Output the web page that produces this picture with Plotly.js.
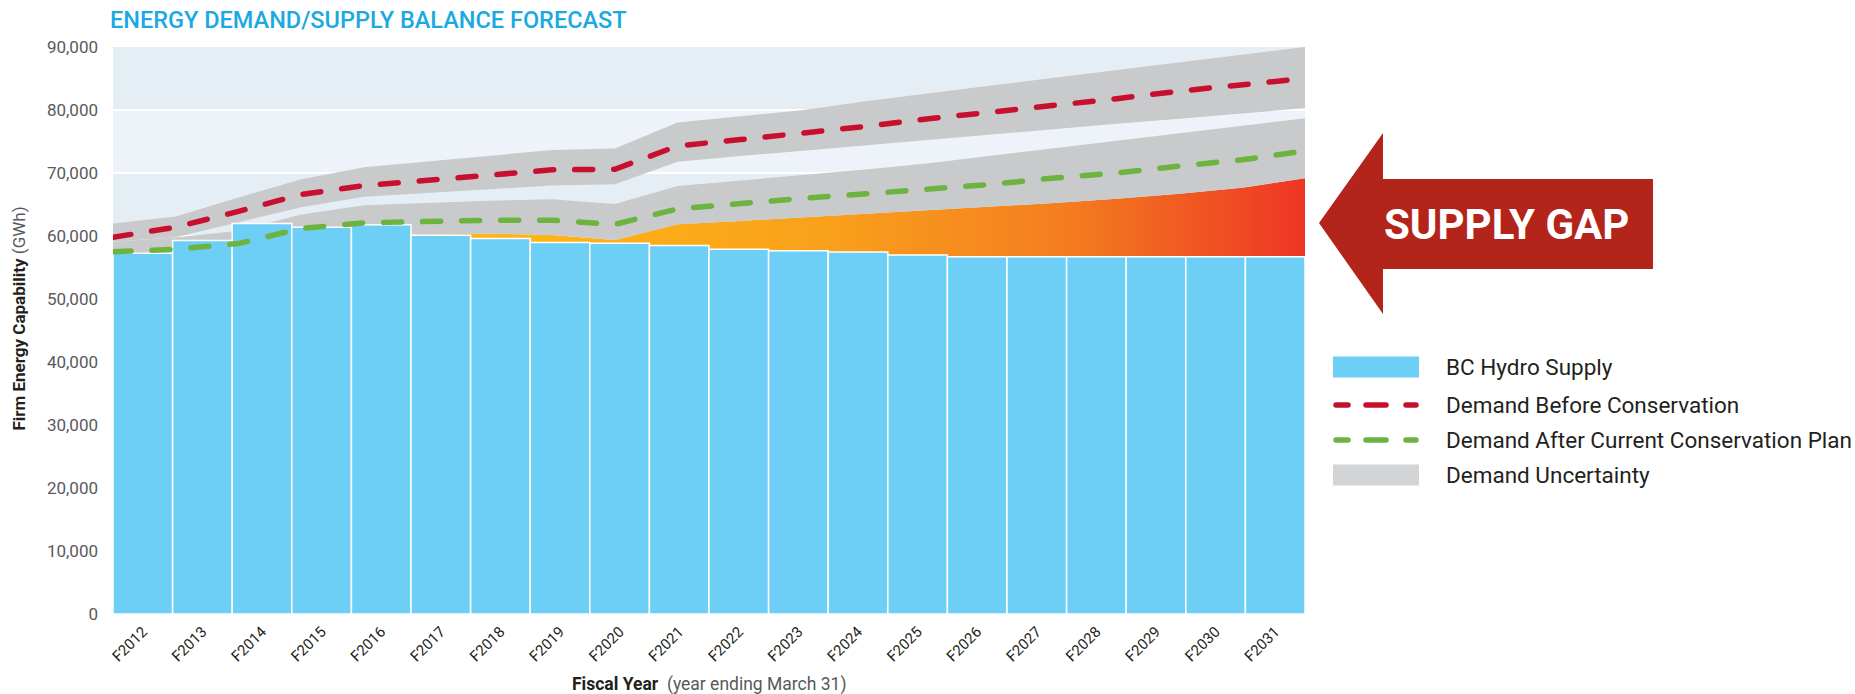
<!DOCTYPE html>
<html><head><meta charset="utf-8">
<script src="https://cdn.plot.ly/plotly-3.0.1.min.js"></script>
<style>
html,body{margin:0;padding:0;background:#fff;}
#chart{width:1855px;height:694px;}
.scatterlayer .js-line{stroke-linecap:round;}
.shapelayer path{stroke-linecap:round;}
</style></head><body><div id="chart"></div>
<script>
// ---- data (GWh) ----
const categories = ['F2012','F2013','F2014','F2015','F2016','F2017','F2018','F2019','F2020','F2021',
                    'F2022','F2023','F2024','F2025','F2026','F2027','F2028','F2029','F2030','F2031'];
const bcHydroSupply = [57250, 59300, 62000, 61400, 61800, 60100, 59600, 58950, 58850, 58500,
                       57900, 57650, 57450, 57000, 56700, 56700, 56700, 56700, 56700, 56700];
const demandBeforeConservation = [59800, 61400, 63900, 66600, 68000, 68800, 69800, 70500, 70600, 74300,
                                  75300, 76300, 77400, 78600, 79600, 80800, 81800, 83000, 83900, 85000];
const demandAfterConservation = [57500, 57900, 58800, 61200, 62100, 62400, 62500, 62500, 61850, 64300,
                                 65200, 66000, 66700, 67450, 68200, 69200, 70000, 71100, 72100, 73500];
const uncertaintyBeforeHigh = [62000, 63100, 66100, 69000, 70900, 71800, 72700, 73650, 73900, 78000,
                               79000, 80000, 81400, 82700, 83900, 85100, 86300, 87500, 88700, 90000];
const uncertaintyBeforeLow  = [59100, 59800, 62200, 64550, 66250, 66800, 67400, 68000, 68200, 71800,
                               72700, 73550, 74400, 75350, 76150, 77000, 77800, 78600, 79450, 80300];
const uncertaintyAfterHigh  = [59100, 59750, 60830, 63400, 64900, 65250, 65600, 65820, 65080, 67940,
                               68810, 69680, 70560, 71540, 72730, 73920, 75100, 76300, 77490, 78680];
const uncertaintyAfterLow   = [55100, 55600, 56500, 58900, 59800, 60250, 60370, 60160, 59370, 61850,
                               62400, 62960, 63510, 64020, 64600, 65240, 65930, 66720, 67670, 69150];
const yTickValues = [0, 10000, 20000, 30000, 40000, 50000, 60000, 70000, 80000, 90000];
const legendLabels = ['BC Hydro Supply', 'Demand Before Conservation',
                      'Demand After Current Conservation Plan', 'Demand Uncertainty'];
const chartTitle = 'ENERGY DEMAND/SUPPLY BALANCE FORECAST';
const gapLabel = 'SUPPLY GAP';

// ---- styles ----
const C = {
  bar: '#6DCFF6', red: '#C8102E', green: '#6DB33F', band: '#C9CACC', legendBand: '#D3D4D6',
  bg: '#E6EEF5', stripe: '#EDF3F8', arrow: '#B3241B', title: '#1BA9E1', text: '#231F20', grey: '#58595B'
};
const FONT = 'Roboto, "Open Sans", sans-serif';
const W = 1855, H = 694, ML = 113, MR = 550, MT = 47, MB = 80;
const PW = W - ML - MR, PH = H - MT - MB;
const px = X => (X - ML) / PW;          // pixel -> paper x
const py = Y => (H - MB - Y) / PH;      // pixel -> paper y

const years = categories.map(c => parseInt(c.slice(1), 10));
const yMax = yTickValues[yTickValues.length - 1];

const traces = [
  // base subplot: orange gap + uncertainty bands
  { x: years, y: uncertaintyAfterLow, type: 'scatter', mode: 'lines', xaxis: 'x', yaxis: 'y',
    line: { width: 0 }, fill: 'tozeroy', fillcolor: '#F7941D',
    fillgradient: { type: 'horizontal',
      colorscale: [[0, '#FDB913'], [0.35, '#FDB515'], [0.6, '#F9A01B'], [0.8, '#F47D20'], [1, '#EE3524']] },
    hoverinfo: 'skip', showlegend: false },
  { x: years, y: uncertaintyAfterHigh, type: 'scatter', mode: 'lines', xaxis: 'x', yaxis: 'y',
    line: { width: 0 }, fill: 'tonexty', fillcolor: C.band, hoverinfo: 'skip', showlegend: false },
  { x: years, y: uncertaintyBeforeLow, type: 'scatter', mode: 'lines', xaxis: 'x', yaxis: 'y',
    line: { width: 0 }, hoverinfo: 'skip', showlegend: false },
  { x: years, y: uncertaintyBeforeHigh, type: 'scatter', mode: 'lines', xaxis: 'x', yaxis: 'y',
    line: { width: 0 }, fill: 'tonexty', fillcolor: C.band, hoverinfo: 'skip', showlegend: false },
  // overlay: supply bars
  { x: categories, y: bcHydroSupply, type: 'bar', xaxis: 'x2', yaxis: 'y2', name: legendLabels[0],
    marker: { color: C.bar, line: { color: '#ffffff', width: 1.5 } }, showlegend: false },
  // overlay: demand lines
  { x: years, y: demandBeforeConservation, type: 'scatter', mode: 'lines', xaxis: 'x3', yaxis: 'y3',
    name: legendLabels[1], line: { color: C.red, width: 5.5, dash: '18px,21px' }, showlegend: false },
  { x: years, y: demandAfterConservation, type: 'scatter', mode: 'lines', xaxis: 'x3', yaxis: 'y3',
    name: legendLabels[2], line: { color: C.green, width: 5.5, dash: '18px,21px' }, showlegend: false }
];

const shapes = [];
// alternating light background stripes (80k-70k, 60k-50k, ...)
for (let i = yTickValues.length - 2; i > 0; i -= 2) {
  shapes.push({ type: 'rect', xref: 'paper', yref: 'y', x0: 0, x1: 1,
    y0: yTickValues[i - 1], y1: yTickValues[i], fillcolor: C.stripe, line: { width: 0 }, layer: 'below' });
}
// supply gap arrow
const arrowPts = [[1319, 223], [1383, 133], [1383, 179], [1653, 179], [1653, 269], [1383, 269], [1383, 314]];
shapes.push({ type: 'path', xref: 'paper', yref: 'paper',
  path: 'M ' + arrowPts.map(p => px(p[0]) + ',' + py(p[1])).join(' L ') + ' Z',
  fillcolor: C.arrow, line: { width: 0 }, layer: 'above' });
// legend samples
const legRows = [367, 405, 440, 475];
const lx0 = 1333, lx1 = 1419;
shapes.push({ type: 'rect', xref: 'paper', yref: 'paper', x0: px(lx0), x1: px(lx1),
  y0: py(legRows[0] - 10.5), y1: py(legRows[0] + 10.5), fillcolor: C.bar, line: { width: 0 } });
shapes.push({ type: 'rect', xref: 'paper', yref: 'paper', x0: px(lx0), x1: px(lx1),
  y0: py(legRows[3] - 10.5), y1: py(legRows[3] + 10.5), fillcolor: C.legendBand, line: { width: 0 } });
[[legRows[1], C.red], [legRows[2], C.green]].forEach(([ry, col]) => {
  [[1336, 1348], [1366, 1386], [1406, 1416]].forEach(([a, b]) => {
    shapes.push({ type: 'line', xref: 'paper', yref: 'paper', x0: px(a), x1: px(b), y0: py(ry), y1: py(ry),
      line: { color: col, width: 5.5 } });
  });
});

const annotations = legendLabels.map((t, i) => ({
  text: t, xref: 'paper', yref: 'paper', x: px(1444), y: py(legRows[i]), xanchor: 'left', yanchor: 'middle',
  showarrow: false, font: { family: FONT, size: 22.5, color: C.text }
}));
annotations.push({ text: '<b>' + gapLabel + '</b>', xref: 'paper', yref: 'paper', x: px(1507), y: py(224),
  xanchor: 'center', yanchor: 'middle', showarrow: false, font: { family: FONT, size: 42, color: '#ffffff' } });
annotations.push({ text: '<b>Firm Energy Capability</b> <span style="color:' + C.grey + ';font-weight:normal">(GWh)</span>',
  xref: 'paper', yref: 'paper', x: px(18.5), y: py(319), textangle: -90, xanchor: 'center', yanchor: 'middle',
  showarrow: false, font: { family: FONT, size: 17, color: C.text } });
annotations.push({ text: '<b>Fiscal Year</b>&nbsp;&nbsp;<span style="color:' + C.grey + '">(year ending March 31)</span>',
  xref: 'paper', yref: 'paper', x: 0.5, y: py(684), xanchor: 'center', yanchor: 'middle',
  showarrow: false, font: { family: FONT, size: 17.5, color: C.text } });

const layout = {
  width: W, height: H, autosize: false,
  margin: { l: ML, r: MR, t: MT, b: MB, pad: 0 },
  paper_bgcolor: '#ffffff', plot_bgcolor: C.bg,
  showlegend: false, hovermode: false, bargap: 0,
  title: { text: chartTitle, xref: 'container', yref: 'container', x: 110 / W, xanchor: 'left',
    y: 1 - 20 / H, yanchor: 'middle', font: { family: FONT, size: 23.5, color: C.title, weight: 500 } },
  xaxis: { type: 'linear', range: [years[0], years[years.length - 1]], showgrid: false, zeroline: false,
    showticklabels: false, ticks: '', showline: false, fixedrange: true },
  yaxis: { range: [0, yMax], tickvals: yTickValues, tickformat: ',', showgrid: true, gridcolor: '#ffffff',
    gridwidth: 1.5, zeroline: false, showline: false, ticks: '', ticklabelstandoff: 14,
    tickfont: { family: FONT, size: 17, color: C.grey }, fixedrange: true },
  xaxis2: { type: 'category', overlaying: 'x', anchor: 'y2', range: [-0.5, categories.length - 0.5],
    showgrid: false, zeroline: false, showline: false, ticks: '', tickangle: -45, ticklabelstandoff: 5,
    tickfont: { family: FONT, size: 15, color: C.text }, fixedrange: true },
  yaxis2: { overlaying: 'y', range: [0, yMax], visible: false, fixedrange: true },
  xaxis3: { type: 'linear', overlaying: 'x', anchor: 'y3', range: [years[0], years[years.length - 1]], visible: false, fixedrange: true },
  yaxis3: { overlaying: 'y', range: [0, yMax], visible: false, fixedrange: true },
  shapes: shapes, annotations: annotations
};

Plotly.newPlot('chart', traces, layout, { staticPlot: true, displayModeBar: false });
</script></body></html>
